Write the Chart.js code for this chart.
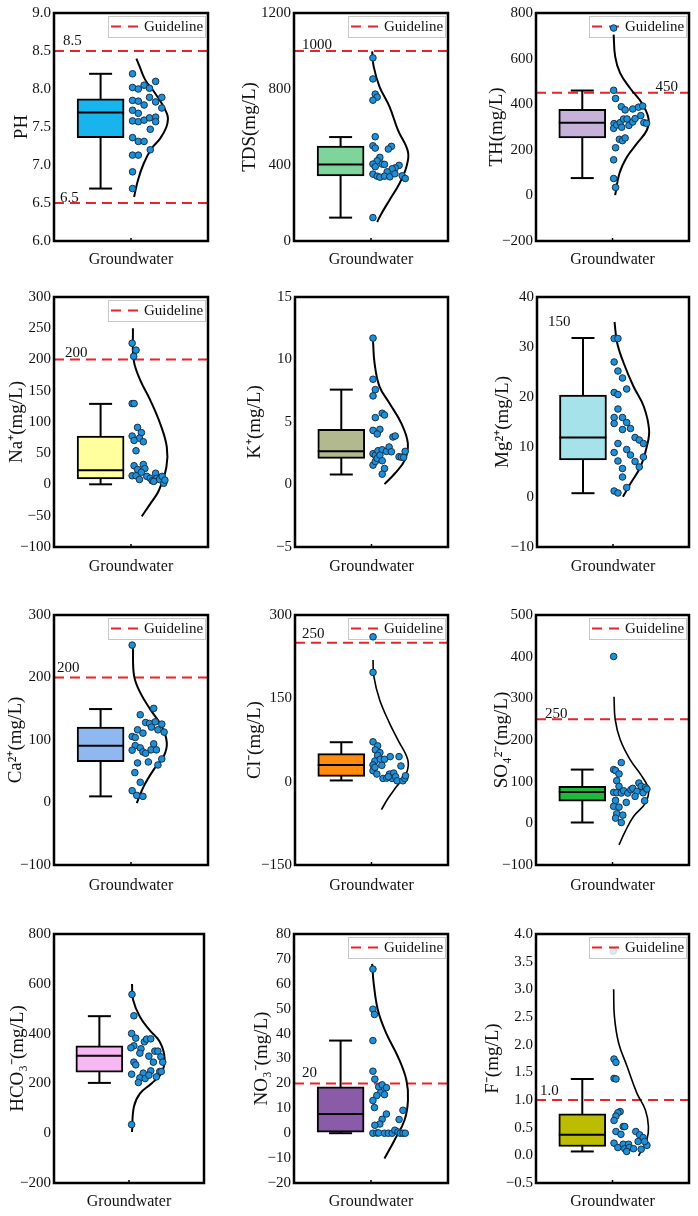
<!DOCTYPE html>
<html>
<head>
<meta charset="utf-8">
<script src="https://cdn.jsdelivr.net/npm/chart.js@4.4.1/dist/chart.umd.min.js"></script>
<style>
  body { margin: 0; background: #fff; }
  #wrap { position: relative; width: 698px; height: 1216px; }
  canvas { position: absolute; display: block; }
</style>
</head>
<body>
<div id="wrap"></div>
<script>
// ---- data ----
const ids = ['ph','tds','th','na','k','mg','ca','cl','so4','hco3','no3','f'];
const yTitles = ['PH','TDS(mg/L)','TH(mg/L)','Na\u207A(mg/L)','K\u207A(mg/L)','Mg\u00B2\u207A(mg/L)',
  'Ca\u00B2\u207A(mg/L)','Cl\u207B(mg/L)','SO\u2084\u00B2\u207B(mg/L)','HCO\u2083\u207B(mg/L)','NO\u2083\u207B(mg/L)','F\u207B(mg/L)'];
const xLabel = 'Groundwater';
const legendText = 'Guideline';

// y axis: min, max, step, decimals
const yRanges = [[6,9,0.5,1],[0,1200,400,0],[-200,800,200,0],[-100,300,50,0],[-5,15,5,0],[-10,40,10,0],
  [-100,300,100,0],[-150,300,150,0],[-100,500,100,0],[-200,800,200,0],[-20,80,10,0],[-0.5,4,0.5,1]];

// box stats: min, q1, median, q3, max
const boxes = [
  [6.69,7.36,7.69,7.87,8.20],
  [123,343,403,500,547],
  [76,252,319,378,460],
  [0.3,9,23,77.5,129],
  [0.80,2.09,2.67,4.41,7.59],
  [0.76,7.4,11.9,20.4,31.8],
  [9.8,65.5,91,120.6,149.5],
  [2.2,9.5,30,50.5,71],
  [2,53.4,75,88.8,129],
  [202,245,311,351,470],
  [0,0.4,7.75,18.6,37.2],
  [0.07,0.16,0.37,0.75,1.38]
];

const guides = [[8.5,6.5],[1000],[450],[200],[],[],[200],[250],[250],[],[20],[1.0]];
const guideTexts = [['8.5','6.5'],['1000'],['450'],['200'],[],['150'],['200'],['250'],['250'],[],['20'],['1.0']];
const guideTextAt = [[8.5,6.5],[1000],[450],[200],[],[35],[200],[250],[250],[],[20],[1.0]];

// sample points [jitter x, value]
const phPts = [[2.04,8.20],[2.04,8.02],[2.19,8.00],[2.34,8.05],[2.48,8.01],[2.64,8.10],[2.80,7.89],[2.04,7.85],[2.19,7.84],[2.34,7.79],[2.48,7.89],[2.64,7.83],[2.80,7.75],[2.04,7.72],[2.19,7.68],[2.04,7.58],[2.19,7.57],[2.34,7.59],[2.48,7.62],[2.64,7.63],[2.64,7.57],[2.50,7.47],[2.04,7.36],[2.19,7.31],[2.34,7.31],[2.50,7.20],[2.04,7.13],[2.19,7.13],[2.04,6.91],[2.04,6.69]];
const tdsPts = [[2.05,964],[2.05,853],[2.11,773],[2.16,757],[2.05,741],[2.11,549],[2.05,501],[2.11,489],[2.53,498],[2.45,484],[2.23,440],[2.16,422],[2.05,405],[2.29,405],[2.35,403],[2.11,391],[2.73,398],[2.63,385],[2.55,380],[2.42,364],[2.05,352],[2.16,341],[2.23,336],[2.35,341],[2.49,338],[2.62,354],[2.81,343],[2.89,329],[2.05,123]];
const thPts = [[2.03,734],[2.03,461],[2.08,425],[2.23,389],[2.33,375],[2.53,379],[2.68,387],[2.79,392],[2.04,315],[2.03,294],[2.11,309],[2.20,319],[2.29,335],[2.38,335],[2.24,299],[2.43,307],[2.53,322],[2.59,337],[2.74,350],[2.82,319],[2.89,316],[2.18,246],[2.26,240],[2.33,252],[2.08,209],[2.03,156],[2.03,74],[2.08,35]];
const naPts = [[2.03,226],[2.13,215],[2.07,205],[2.03,129.5],[2.08,129.5],[2.17,91.4],[2.27,83],[2.03,77.5],[2.22,74],[2.08,70.5],[2.32,68.4],[2.13,54],[2.08,30],[2.32,32],[2.17,24],[2.36,25.5],[2.27,19.6],[2.03,14],[2.13,14],[2.22,8],[2.41,13],[2.50,10],[2.55,6],[2.64,18],[2.67,10],[2.74,8],[2.81,13],[2.85,2],[2.88,7],[2.59,5]];
const kPts = [[2.04,11.71],[2.04,8.42],[2.10,7.59],[2.04,7.09],[2.10,5.35],[2.28,5.70],[2.34,5.56],[2.04,4.33],[2.22,4.41],[2.15,4.04],[2.56,3.80],[2.62,3.88],[2.04,2.46],[2.10,2.33],[2.17,2.70],[2.28,2.78],[2.39,2.65],[2.46,3.0],[2.52,2.62],[2.04,1.55],[2.10,1.84],[2.15,2.09],[2.22,2.35],[2.28,1.90],[2.34,1.28],[2.28,0.83],[2.72,2.22],[2.78,2.19],[2.84,2.17],[2.88,2.65]];
const mgPts = [[2.03,31.7],[2.13,31.7],[2.03,27.0],[2.13,25.2],[2.25,23.8],[2.36,21.6],[2.03,20.9],[2.13,20.5],[2.13,17.6],[2.03,15.9],[2.25,15.9],[2.03,14.7],[2.36,14.9],[2.46,13.7],[2.25,13.5],[2.58,11.9],[2.69,11.4],[2.80,10.7],[2.13,10.7],[2.36,9.5],[2.46,8.4],[2.03,8.9],[2.80,8.0],[2.13,7.2],[2.58,7.1],[2.69,6.0],[2.25,5.7],[2.25,4.0],[2.36,1.9],[2.03,1.2],[2.13,0.8]];
const caPts = [[2.03,251.8],[2.59,150.6],[2.24,140.4],[2.38,128],[2.48,126.5],[2.63,129],[2.80,125.4],[2.53,120.6],[2.17,116.3],[2.70,116.3],[2.86,112.6],[2.31,111],[2.03,105.6],[2.11,104],[2.59,93.8],[2.11,91],[2.24,87.4],[2.03,83.7],[2.52,84.2],[2.66,84.2],[2.31,81],[2.38,78.8],[2.80,69.7],[2.45,64.9],[2.17,63.3],[2.70,60.1],[2.10,47.8],[2.24,32.3],[2.03,18.9],[2.15,11.4],[2.31,9.8]];
const clPts = [[2.04,260.7],[2.04,196.7],[2.04,71.7],[2.16,64.4],[2.10,57.2],[2.22,52.2],[2.16,47.5],[2.09,37.3],[2.23,40.3],[2.34,40.3],[2.49,45.1],[2.72,45.1],[2.77,28.2],[2.04,30],[2.27,29.4],[2.04,19.7],[2.14,13.7],[2.30,5.8],[2.40,6.4],[2.47,13.7],[2.58,15.5],[2.54,5.8],[2.63,8.9],[2.67,1.6],[2.82,1.6],[2.87,5.8],[2.89,10.7],[2.44,8.9],[2.09,25.8]];
const so4Pts = [[2.03,400.4],[2.03,129],[2.08,126.5],[2.23,145.8],[2.17,118.5],[2.11,102.4],[2.17,88.8],[2.03,74.3],[2.11,73.5],[2.23,72.7],[2.29,78.3],[2.40,72.7],[2.48,80.7],[2.53,84],[2.64,76.7],[2.69,96.8],[2.75,88.8],[2.80,73.5],[2.86,86.4],[2.90,82.3],[2.84,54.2],[2.08,55],[2.36,50.2],[2.03,40.6],[2.17,39],[2.11,23],[2.27,19.7],[2.08,12.5],[2.23,2],[2.59,64.7]];
const hco3Pts = [[2.08,557.4],[2.13,471.6],[2.07,400.5],[2.18,381.8],[2.13,351],[2.05,342.9],[2.32,338.9],[2.41,367],[2.47,377.8],[2.58,379],[2.29,321.4],[2.69,329.5],[2.77,329.5],[2.53,309.4],[2.85,306.7],[2.13,285.3],[2.18,274.5],[2.65,285.3],[2.90,285.3],[2.38,241.3],[2.58,250.4],[2.82,247.7],[2.86,247.7],[2.07,237],[2.73,226.3],[2.29,222.3],[2.43,219.6],[2.53,233],[2.25,203.5],[2.07,34.6]];
const no3Pts = [[2.05,65.9],[2.05,49.8],[2.09,47.7],[2.05,37.2],[2.05,24.9],[2.10,21.7],[2.20,18.6],[2.29,19.4],[2.40,18.3],[2.25,16.3],[2.35,15.5],[2.15,15.1],[2.05,13.1],[2.09,10.3],[2.40,7.7],[2.29,5.6],[2.23,3.7],[2.10,3.2],[2.05,0],[2.15,0.1],[2.20,0.1],[2.35,0],[2.45,0],[2.55,0],[2.62,1.2],[2.70,0.5],[2.76,0],[2.83,0],[2.89,0],[2.73,5.5],[2.83,9.2]];
const fPts = [[2.02,3.69],[2.04,1.74],[2.09,1.68],[2.04,1.39],[2.09,1.38],[2.20,0.79],[2.14,0.77],[2.09,0.71],[2.04,0.63],[2.28,0.52],[2.32,0.52],[2.09,0.43],[2.22,0.38],[2.61,0.43],[2.71,0.37],[2.80,0.32],[2.67,0.25],[2.90,0.18],[2.84,0.25],[2.04,0.22],[2.14,0.14],[2.28,0.20],[2.32,0.12],[2.42,0.20],[2.44,0.14],[2.55,0.12],[2.37,0.07],[2.75,0.11]];

// distribution curve [x, value]
const phCurve = [[2.14,8.40],[2.22,8.30],[2.37,8.12],[2.59,7.97],[2.80,7.81],[2.93,7.68],[2.96,7.61],[2.92,7.50],[2.76,7.35],[2.54,7.22],[2.33,7.02],[2.18,6.80],[2.08,6.58]];
const tdsCurve = [[2.03,998],[2.07,918],[2.22,813],[2.48,707],[2.70,584],[2.96,470],[2.92,391],[2.74,303],[2.48,215],[2.27,144],[2.16,100]];
const thCurve = [[2.03,705],[2.07,609],[2.20,536],[2.46,470],[2.77,404],[2.94,338],[2.90,287],[2.64,228],[2.38,169],[2.18,96],[2.07,1]];
const naCurve = [[2.05,250],[2.07,199],[2.24,167],[2.50,135],[2.76,97],[2.93,60],[2.92,28],[2.72,-10],[2.50,-31],[2.28,-51]];
const kCurve = [[2.04,11.44],[2.08,9.71],[2.21,7.83],[2.47,6.50],[2.78,4.89],[2.95,3.29],[2.87,1.95],[2.61,0.88],[2.34,0.03]];
const mgCurve = [[2.04,35.0],[2.11,30.8],[2.28,26.8],[2.54,22.1],[2.81,18.1],[2.95,13.4],[2.89,10.1],[2.72,6.0],[2.46,2.7],[2.26,0.03]];
const caCurve = [[2.05,250.7],[2.08,202.5],[2.24,175.8],[2.50,149],[2.80,122],[2.93,95.4],[2.85,74],[2.59,52.6],[2.33,25.8],[2.15,-1]];
const clCurve = [[2.04,219],[2.06,190],[2.21,147.8],[2.47,105.5],[2.69,75.3],[2.95,39],[2.91,14.9],[2.65,-9.3],[2.43,-30.4],[2.26,-50.3]];
const so4Curve = [[2.04,304],[2.07,249.4],[2.20,201.2],[2.46,153],[2.77,112.9],[2.94,80.7],[2.86,48.6],[2.55,16.5],[2.33,-19.7],[2.17,-51.8]];
const hco3Curve = [[2.08,599],[2.11,534.6],[2.29,467.6],[2.55,414],[2.82,367],[2.95,300],[2.86,239.7],[2.60,199.5],[2.29,159.2],[2.13,105.6],[2.08,5]];
const no3Curve = [[2.03,68],[2.07,60.2],[2.18,49.4],[2.40,40],[2.70,30.7],[2.92,21.3],[2.96,13.2],[2.87,5.2],[2.61,-2.8],[2.35,-10.2]];
const fCurve = [[2.03,3.0],[2.05,2.51],[2.16,2.03],[2.38,1.61],[2.64,1.12],[2.86,0.82],[2.94,0.52],[2.90,0.28],[2.77,0.10],[2.68,-0.01]];

const allPts = [phPts,tdsPts,thPts,naPts,kPts,mgPts,caPts,clPts,so4Pts,hco3Pts,no3Pts,fPts];
const allCurves = [phCurve,tdsCurve,thCurve,naCurve,kCurve,mgCurve,caCurve,clCurve,so4Curve,hco3Curve,no3Curve,fCurve];

// ---- look & layout ----
const boxColors = ['#17b4ee','#7fd49c','#c6b2d8','#ffff9e','#b3b98e','#a6e2ea','#90b8f0','#ff8c0c','#1eb83a','#f6b7f2','#8a5ca8','#bcbc00'];
const curveW = [2,2,2,2,2,2,2,1.6,1.6,2,2,1.6];
const red = '#e8232a';
const serif = '"Liberation Serif", "Times New Roman", serif';
const ink = '#111';
const boxX = 1.21;
const rows = [[0,290,19],[290,300,20],[590,310,21],[900,316,19]]; // top, height, x-title offset
const plots = [[54,13,154,228],[294,13,154,228],[536,13,153,228],
  [54,297,154,250],[295,297,153,250],[537,297,152,250],
  [54,615,154,250],[295,615,153,250],[536,615,153,250],
  [54,934,150,249],[294,934,154,249],[536,934,153,249]];
const yTitleX = [22,250,497,17,255,503,16,255,502,18,262,493];
// label placement: side, dx from edge, dy above value
const labelPos = [[['l',9,6],['l',6,1.5]],[['l',8,2]],[['r',11,1.5]],[['l',11,3]],[],[['l',11,-4]],
  [['l',3,5.5]],[['l',7,4.5]],[['l',9,1]],[],[['l',8,6.5]],[['l',4,5]]];
const legendOver = [false,false,false,false,false,false,false,false,false,false,false,true];

function fmt(v, dec) {
  const s = Math.abs(v).toFixed(dec);
  return v < 0 ? '\u2212' + s : s;
}

function drawLegend(ctx, a, over) {
  const w = 97, h = 21, x = a.right - w - 3, y = a.top + 3;
  ctx.save();
  ctx.fillStyle = over ? 'rgba(255,255,255,0.82)' : '#fff';
  ctx.fillRect(x, y, w, h);
  ctx.strokeStyle = '#c8c8c8'; ctx.lineWidth = 1;
  ctx.strokeRect(x + 0.5, y + 0.5, w, h);
  ctx.strokeStyle = red; ctx.lineWidth = 2; ctx.setLineDash([10, 7]);
  ctx.beginPath(); ctx.moveTo(x + 3, y + h / 2); ctx.lineTo(x + 31, y + h / 2); ctx.stroke();
  ctx.setLineDash([]);
  ctx.fillStyle = ink; ctx.font = '15px ' + serif;
  ctx.textBaseline = 'middle'; ctx.textAlign = 'left';
  ctx.fillText(legendText, x + 36, y + h / 2 + 1);
  ctx.restore();
}

function makeDeco(i) {
  const hasLegend = guides[i].length > 0;
  return {
    id: 'deco' + i,
    beforeDatasetsDraw(chart) {
      if (hasLegend && !legendOver[i]) drawLegend(chart.ctx, chart.chartArea, false);
    },
    afterDatasetsDraw(chart) {
      const ctx = chart.ctx, a = chart.chartArea, y = chart.scales.y;
      if (hasLegend && legendOver[i]) drawLegend(ctx, a, true);
      ctx.save();
      ctx.font = '15px ' + serif; ctx.fillStyle = ink; ctx.textBaseline = 'alphabetic';
      guideTexts[i].forEach((t, k) => {
        const [side, dx, dy] = labelPos[i][k];
        const py = y.getPixelForValue(guideTextAt[i][k]) - dy;
        if (side === 'r') { ctx.textAlign = 'right'; ctx.fillText(t, a.right - dx, py); }
        else { ctx.textAlign = 'left'; ctx.fillText(t, a.left + dx, py); }
      });
      ctx.restore();
    },
    afterDraw(chart) {
      const ctx = chart.ctx, a = chart.chartArea;
      ctx.save();
      ctx.strokeStyle = '#000'; ctx.lineWidth = 2.5;
      ctx.strokeRect(a.left, a.top, a.right - a.left, a.bottom - a.top);
      // small centre tick on x axis
      const cx = chart.scales.x.getPixelForValue(2);
      ctx.lineWidth = 1.5;
      ctx.beginPath(); ctx.moveTo(cx, a.bottom); ctx.lineTo(cx, a.bottom - 3); ctx.stroke();
      ctx.restore();
    }
  };
}

const wrap = document.getElementById('wrap');

ids.forEach((id, i) => {
  const [px, py, pw, ph] = plots[i];
  const [rt, rh, toff] = rows[Math.floor(i / 3)];
  const cv = document.createElement('canvas');
  cv.id = id;
  cv.width = 54 + pw + 8;
  cv.height = rh;
  cv.style.left = (px - 54) + 'px';
  cv.style.top = rt + 'px';
  wrap.appendChild(cv);

  const xH = rt + rh - (py + ph);
  const [yMin, yMax, yStep, dec] = yRanges[i];
  const [mn, q1, md, q3, mx] = boxes[i];
  const tpad = yTitleX[i] - (px - 54) - 11.4;

  const datasets = [
    { type: 'scatter', data: allPts[i].map(p => ({ x: p[0], y: p[1] })),
      pointRadius: 3.3, pointBackgroundColor: '#1f8fd6', pointBorderColor: '#13324f', pointBorderWidth: 1, order: 1 },
    { type: 'line', data: allCurves[i].map(p => ({ x: p[0], y: p[1] })),
      borderColor: '#000', borderWidth: curveW[i], tension: 0.4, pointRadius: 0, fill: false, order: 2 },
    { type: 'scatter', data: [{ x: boxX, y: md }], pointStyle: 'line', pointRadius: 23.5,
      pointBorderColor: '#000', pointBorderWidth: 2, order: 3 },
    { type: 'bar', data: [{ x: boxX, y: [q1, q3] }], backgroundColor: boxColors[i],
      borderColor: '#000', borderWidth: 2, borderSkipped: false, barThickness: 47, order: 4 },
    { type: 'scatter', data: [{ x: boxX, y: mn }, { x: boxX, y: mx }], pointStyle: 'line', pointRadius: 11.5,
      pointBorderColor: '#000', pointBorderWidth: 2, order: 5 },
    { type: 'line', data: [{ x: boxX, y: mn }, { x: boxX, y: mx }], borderColor: '#000', borderWidth: 2,
      pointRadius: 0, fill: false, order: 6 }
  ];
  guides[i].forEach(g => datasets.push({
    type: 'line', data: [{ x: 0, y: g }, { x: 4, y: g }], borderColor: red, borderWidth: 2,
    borderDash: [10, 6], pointRadius: 0, fill: false, order: 7
  }));

  new Chart(cv, {
    type: 'bar',
    data: { datasets: datasets },
    options: {
      responsive: false,
      animation: false,
      layout: { autoPadding: false, padding: { top: py - rt, right: 8, bottom: 0, left: 0 } },
      plugins: { legend: { display: false }, tooltip: { enabled: false } },
      scales: {
        x: {
          type: 'linear', min: 0, max: 4, offset: false,
          ticks: { display: false },
          grid: { display: false, drawTicks: false, offset: false },
          border: { display: false },
          title: { display: true, text: xLabel, color: ink, font: { family: serif, size: 16 },
            padding: { top: 0, bottom: xH - 9.6 - toff } },
          afterFit: s => { s.height = xH; s.paddingLeft = 0; s.paddingRight = 0; }
        },
        y: {
          type: 'linear', min: yMin, max: yMax,
          ticks: { stepSize: yStep, color: ink, padding: 3, font: { family: serif, size: 15 },
            callback: v => fmt(v, dec) },
          grid: { display: false, drawTicks: false },
          border: { display: false },
          title: { display: true, text: yTitles[i], color: ink, font: { family: serif, size: 19 },
            padding: { top: tpad, bottom: 0 } },
          afterFit: s => { s.width = 54; s.paddingTop = 0; s.paddingBottom = 0; }
        }
      }
    },
    plugins: [makeDeco(i)]
  });
});
</script>
</body>
</html>
